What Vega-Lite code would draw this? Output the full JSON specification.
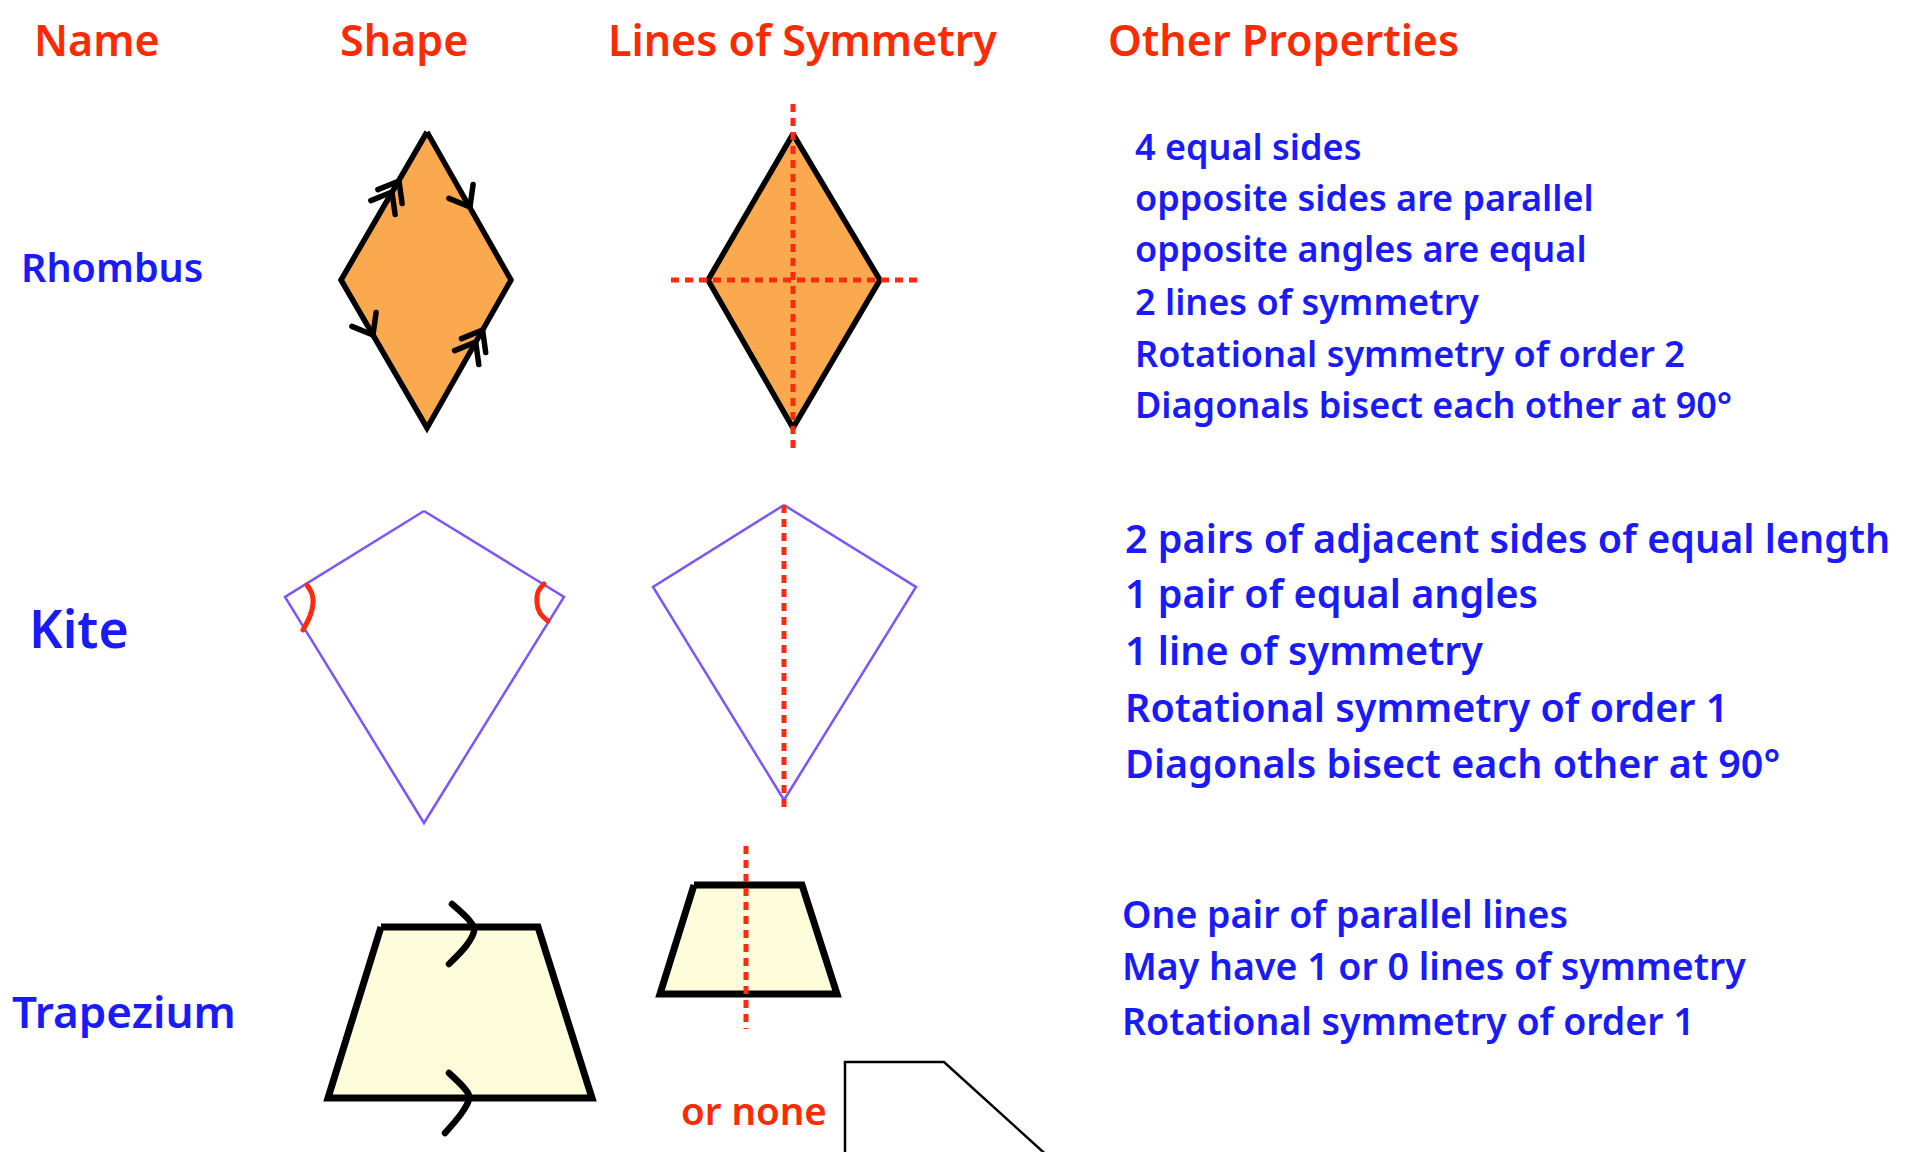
{
  "$schema": "https://vega.github.io/schema/vega-lite/v6.json",
  "autosize": {"type": "fit", "contains": "padding"},
  "width": 1917,
  "height": 1152,
  "padding": 0,
  "background": "white",
  "config": {"view": {"stroke": null}},
  "datasets": {
    "fills": [
      {"shape": "r1", "x": 341, "y": 280, "y2": 280},
      {"shape": "r1", "x": 427, "y": 132, "y2": 428},
      {"shape": "r1", "x": 511, "y": 280, "y2": 280},
      {"shape": "r2", "x": 708, "y": 280, "y2": 280},
      {"shape": "r2", "x": 793, "y": 134, "y2": 428},
      {"shape": "r2", "x": 880, "y": 280, "y2": 280},
      {"shape": "t1", "x": 328, "y": 1098, "y2": 1098},
      {"shape": "t1", "x": 381, "y": 927, "y2": 1098},
      {"shape": "t1", "x": 538, "y": 927, "y2": 1098},
      {"shape": "t1", "x": 592, "y": 1098, "y2": 1098},
      {"shape": "t2", "x": 660, "y": 994, "y2": 994},
      {"shape": "t2", "x": 694, "y": 885, "y2": 994},
      {"shape": "t2", "x": 802, "y": 885, "y2": 994},
      {"shape": "t2", "x": 837, "y": 994, "y2": 994}
    ],
    "outlines": [
      {"kind": "rhombus", "shape": "r1", "i": 0, "x": 427, "y": 132},
      {"kind": "rhombus", "shape": "r1", "i": 1, "x": 511, "y": 280},
      {"kind": "rhombus", "shape": "r1", "i": 2, "x": 427, "y": 428},
      {"kind": "rhombus", "shape": "r1", "i": 3, "x": 341, "y": 280},
      {"kind": "rhombus", "shape": "r1", "i": 4, "x": 427, "y": 132},
      {"kind": "rhombus", "shape": "r2", "i": 0, "x": 793, "y": 134},
      {"kind": "rhombus", "shape": "r2", "i": 1, "x": 880, "y": 280},
      {"kind": "rhombus", "shape": "r2", "i": 2, "x": 793, "y": 428},
      {"kind": "rhombus", "shape": "r2", "i": 3, "x": 708, "y": 280},
      {"kind": "rhombus", "shape": "r2", "i": 4, "x": 793, "y": 134},
      {"kind": "kite", "shape": "k1", "i": 0, "x": 424, "y": 511},
      {"kind": "kite", "shape": "k1", "i": 1, "x": 564, "y": 597},
      {"kind": "kite", "shape": "k1", "i": 2, "x": 424, "y": 823},
      {"kind": "kite", "shape": "k1", "i": 3, "x": 285, "y": 597},
      {"kind": "kite", "shape": "k1", "i": 4, "x": 424, "y": 511},
      {"kind": "kite", "shape": "k2", "i": 0, "x": 784, "y": 505},
      {"kind": "kite", "shape": "k2", "i": 1, "x": 916, "y": 587},
      {"kind": "kite", "shape": "k2", "i": 2, "x": 784, "y": 800},
      {"kind": "kite", "shape": "k2", "i": 3, "x": 653, "y": 587},
      {"kind": "kite", "shape": "k2", "i": 4, "x": 784, "y": 505},
      {"kind": "trap", "shape": "t1", "i": 0, "x": 381, "y": 927},
      {"kind": "trap", "shape": "t1", "i": 1, "x": 538, "y": 927},
      {"kind": "trap", "shape": "t1", "i": 2, "x": 592, "y": 1098},
      {"kind": "trap", "shape": "t1", "i": 3, "x": 328, "y": 1098},
      {"kind": "trap", "shape": "t1", "i": 4, "x": 381, "y": 927},
      {"kind": "trap", "shape": "t2", "i": 0, "x": 694, "y": 885},
      {"kind": "trap", "shape": "t2", "i": 1, "x": 802, "y": 885},
      {"kind": "trap", "shape": "t2", "i": 2, "x": 837, "y": 994},
      {"kind": "trap", "shape": "t2", "i": 3, "x": 660, "y": 994},
      {"kind": "trap", "shape": "t2", "i": 4, "x": 694, "y": 885},
      {"kind": "thin", "shape": "t3", "i": 0, "x": 845, "y": 1160},
      {"kind": "thin", "shape": "t3", "i": 1, "x": 845, "y": 1062},
      {"kind": "thin", "shape": "t3", "i": 2, "x": 944, "y": 1062},
      {"kind": "thin", "shape": "t3", "i": 3, "x": 1052, "y": 1160}
    ],
    "chevrons": [
      {"id": "ul1", "i": 0, "x": 377.9, "y": 189.6},
      {"id": "ul1", "i": 1, "x": 399, "y": 181},
      {"id": "ul1", "i": 2, "x": 402.1, "y": 203.6},
      {"id": "ul2", "i": 0, "x": 370.9, "y": 200.6},
      {"id": "ul2", "i": 1, "x": 392, "y": 192},
      {"id": "ul2", "i": 2, "x": 395.1, "y": 214.6},
      {"id": "lr1", "i": 0, "x": 461.5, "y": 338.6},
      {"id": "lr1", "i": 1, "x": 482.6, "y": 330},
      {"id": "lr1", "i": 2, "x": 485.7, "y": 352.6},
      {"id": "lr2", "i": 0, "x": 454.6, "y": 350.6},
      {"id": "lr2", "i": 1, "x": 475.7, "y": 342},
      {"id": "lr2", "i": 2, "x": 478.8, "y": 364.6},
      {"id": "ur", "i": 0, "x": 448.9, "y": 198.4},
      {"id": "ur", "i": 1, "x": 470, "y": 207},
      {"id": "ur", "i": 2, "x": 473.1, "y": 184.4},
      {"id": "ll", "i": 0, "x": 351.9, "y": 326.4},
      {"id": "ll", "i": 1, "x": 373, "y": 335},
      {"id": "ll", "i": 2, "x": 376.1, "y": 312.4}
    ],
    "curves": [
      {"kind": "tchev", "id": "top", "i": 0, "x": 452, "y": 904},
      {"kind": "tchev", "id": "top", "i": 1, "x": 469, "y": 920},
      {"kind": "tchev", "id": "top", "i": 2, "x": 474, "y": 931},
      {"kind": "tchev", "id": "top", "i": 3, "x": 466, "y": 946},
      {"kind": "tchev", "id": "top", "i": 4, "x": 449, "y": 964},
      {"kind": "tchev", "id": "bot", "i": 0, "x": 449, "y": 1073},
      {"kind": "tchev", "id": "bot", "i": 1, "x": 465, "y": 1089},
      {"kind": "tchev", "id": "bot", "i": 2, "x": 469, "y": 1099},
      {"kind": "tchev", "id": "bot", "i": 3, "x": 461, "y": 1114},
      {"kind": "tchev", "id": "bot", "i": 4, "x": 445, "y": 1133},
      {"kind": "arc", "id": "left", "i": 0, "x": 307, "y": 585},
      {"kind": "arc", "id": "left", "i": 1, "x": 312, "y": 594},
      {"kind": "arc", "id": "left", "i": 2, "x": 313, "y": 604},
      {"kind": "arc", "id": "left", "i": 3, "x": 310, "y": 616},
      {"kind": "arc", "id": "left", "i": 4, "x": 303, "y": 630},
      {"kind": "arc", "id": "right", "i": 0, "x": 544, "y": 584},
      {"kind": "arc", "id": "right", "i": 1, "x": 538, "y": 592},
      {"kind": "arc", "id": "right", "i": 2, "x": 537, "y": 603},
      {"kind": "arc", "id": "right", "i": 3, "x": 540, "y": 613},
      {"kind": "arc", "id": "right", "i": 4, "x": 548, "y": 621}
    ],
    "symlines": [
      {"x": 793, "y": 104, "x2": 793, "y2": 452},
      {"x": 671, "y": 280, "x2": 918, "y2": 280},
      {"x": 784, "y": 505, "x2": 784, "y2": 808},
      {"x": 746, "y": 846, "x2": 746, "y2": 1029}
    ],
    "texts": [
      {"group": "header", "label": "Name", "x": 34, "y": 56},
      {"group": "header", "label": "Shape", "x": 340, "y": 56},
      {"group": "header", "label": "Lines of Symmetry", "x": 608, "y": 56},
      {"group": "header", "label": "Other Properties", "x": 1108, "y": 56},
      {"group": "ornone", "label": "or none", "x": 681, "y": 1125},
      {"group": "rname", "label": "Rhombus", "x": 21, "y": 282},
      {"group": "kitename", "label": "Kite", "x": 29, "y": 648},
      {"group": "tname", "label": "Trapezium", "x": 12, "y": 1028},
      {"group": "rprop", "label": "4 equal sides", "x": 1135, "y": 160},
      {"group": "rprop", "label": "opposite sides are parallel", "x": 1135, "y": 211},
      {"group": "rprop", "label": "opposite angles are equal", "x": 1135, "y": 262},
      {"group": "rprop", "label": "2 lines of symmetry", "x": 1135, "y": 315},
      {"group": "rprop", "label": "Rotational symmetry of order 2", "x": 1135, "y": 367},
      {"group": "rprop", "label": "Diagonals bisect each other at 90°", "x": 1135, "y": 418},
      {"group": "kprop", "label": "2 pairs of adjacent sides of equal length", "x": 1125, "y": 553},
      {"group": "kprop", "label": "1 pair of equal angles", "x": 1125, "y": 608},
      {"group": "kprop", "label": "1 line of symmetry", "x": 1125, "y": 665},
      {"group": "kprop", "label": "Rotational symmetry of order 1", "x": 1125, "y": 722},
      {"group": "kprop", "label": "Diagonals bisect each other at 90°", "x": 1125, "y": 778},
      {"group": "tprop", "label": "One pair of parallel lines", "x": 1122, "y": 928},
      {"group": "tprop", "label": "May have 1 or 0 lines of symmetry", "x": 1122, "y": 980},
      {"group": "tprop", "label": "Rotational symmetry of order 1", "x": 1122, "y": 1035}
    ]
  },
  "encoding": {
    "x": {"field": "x", "type": "quantitative", "axis": null, "scale": {"domain": [0, 1917], "nice": false, "zero": false}},
    "y": {"field": "y", "type": "quantitative", "axis": null, "scale": {"domain": [0, 1152], "nice": false, "zero": false, "reverse": true}}
  },
  "layer": [
    {
      "data": {"name": "fills"},
      "mark": {"type": "area", "opacity": 1, "clip": true},
      "encoding": {
        "y2": {"field": "y2"},
        "color": {"field": "shape", "type": "nominal", "legend": null,
          "scale": {"domain": ["r1", "r2", "t1", "t2"], "range": ["#fba94e", "#fba94e", "#fdfcdb", "#fdfcdb"]}}
      }
    },
    {
      "data": {"name": "outlines"},
      "transform": [{"filter": "datum.kind === 'rhombus'"}],
      "mark": {"type": "line", "stroke": "#000000", "strokeWidth": 5.5, "strokeJoin": "miter", "strokeMiterLimit": 10},
      "encoding": {"detail": {"field": "shape"}, "order": {"field": "i", "type": "quantitative"}}
    },
    {
      "data": {"name": "outlines"},
      "transform": [{"filter": "datum.kind === 'kite'"}],
      "mark": {"type": "line", "stroke": "#7b55ff", "strokeWidth": 2.5, "strokeJoin": "miter", "strokeMiterLimit": 10},
      "encoding": {"detail": {"field": "shape"}, "order": {"field": "i", "type": "quantitative"}}
    },
    {
      "data": {"name": "outlines"},
      "transform": [{"filter": "datum.kind === 'trap'"}],
      "mark": {"type": "line", "stroke": "#000000", "strokeWidth": 7, "strokeJoin": "miter", "strokeMiterLimit": 10},
      "encoding": {"detail": {"field": "shape"}, "order": {"field": "i", "type": "quantitative"}}
    },
    {
      "data": {"name": "outlines"},
      "transform": [{"filter": "datum.kind === 'thin'"}],
      "mark": {"type": "line", "stroke": "#000000", "strokeWidth": 2.5, "strokeJoin": "miter", "clip": true},
      "encoding": {"detail": {"field": "shape"}, "order": {"field": "i", "type": "quantitative"}}
    },
    {
      "data": {"name": "symlines"},
      "mark": {"type": "rule", "stroke": "#ff2a10", "strokeWidth": 5, "strokeDash": [8, 6]},
      "encoding": {"x2": {"field": "x2"}, "y2": {"field": "y2"}}
    },
    {
      "data": {"name": "chevrons"},
      "mark": {"type": "line", "stroke": "#000000", "strokeWidth": 5.5, "strokeCap": "round", "strokeJoin": "round"},
      "encoding": {"detail": {"field": "id"}, "order": {"field": "i", "type": "quantitative"}}
    },
    {
      "data": {"name": "curves"},
      "transform": [{"filter": "datum.kind === 'tchev'"}],
      "mark": {"type": "line", "stroke": "#000000", "strokeWidth": 6.5, "strokeCap": "round", "interpolate": "cardinal"},
      "encoding": {"detail": {"field": "id"}, "order": {"field": "i", "type": "quantitative"}}
    },
    {
      "data": {"name": "curves"},
      "transform": [{"filter": "datum.kind === 'arc'"}],
      "mark": {"type": "line", "stroke": "#ff2a10", "strokeWidth": 5, "strokeCap": "round", "interpolate": "cardinal"},
      "encoding": {"detail": {"field": "id"}, "order": {"field": "i", "type": "quantitative"}}
    },
    {
      "data": {"name": "texts"},
      "transform": [{"filter": "datum.group === 'header'"}],
      "mark": {"type": "text", "align": "left", "baseline": "alphabetic", "font": "Noto Sans", "fontWeight": 600, "fontSize": 43, "color": "#ff2a00"},
      "encoding": {"text": {"field": "label"}}
    },
    {
      "data": {"name": "texts"},
      "transform": [{"filter": "datum.group === 'ornone'"}],
      "mark": {"type": "text", "align": "left", "baseline": "alphabetic", "font": "Noto Sans", "fontWeight": 600, "fontSize": 38.5, "color": "#ff2a00"},
      "encoding": {"text": {"field": "label"}}
    },
    {
      "data": {"name": "texts"},
      "transform": [{"filter": "datum.group === 'rname'"}],
      "mark": {"type": "text", "align": "left", "baseline": "alphabetic", "font": "Noto Sans", "fontWeight": 600, "fontSize": 39.5, "color": "#1a1aff"},
      "encoding": {"text": {"field": "label"}}
    },
    {
      "data": {"name": "texts"},
      "transform": [{"filter": "datum.group === 'tname'"}],
      "mark": {"type": "text", "align": "left", "baseline": "alphabetic", "font": "Noto Sans", "fontWeight": 600, "fontSize": 44, "color": "#1a1aff"},
      "encoding": {"text": {"field": "label"}}
    },
    {
      "data": {"name": "texts"},
      "transform": [{"filter": "datum.group === 'kitename'"}],
      "mark": {"type": "text", "align": "left", "baseline": "alphabetic", "font": "Noto Sans", "fontWeight": 600, "fontSize": 52, "color": "#1a1aff"},
      "encoding": {"text": {"field": "label"}}
    },
    {
      "data": {"name": "texts"},
      "transform": [{"filter": "datum.group === 'rprop'"}],
      "mark": {"type": "text", "align": "left", "baseline": "alphabetic", "font": "Noto Sans", "fontWeight": 600, "fontSize": 36, "color": "#1a1aff"},
      "encoding": {"text": {"field": "label"}}
    },
    {
      "data": {"name": "texts"},
      "transform": [{"filter": "datum.group === 'kprop'"}],
      "mark": {"type": "text", "align": "left", "baseline": "alphabetic", "font": "Noto Sans", "fontWeight": 600, "fontSize": 39.5, "color": "#1a1aff"},
      "encoding": {"text": {"field": "label"}}
    },
    {
      "data": {"name": "texts"},
      "transform": [{"filter": "datum.group === 'tprop'"}],
      "mark": {"type": "text", "align": "left", "baseline": "alphabetic", "font": "Noto Sans", "fontWeight": 600, "fontSize": 37.5, "color": "#1a1aff"},
      "encoding": {"text": {"field": "label"}}
    }
  ]
}
